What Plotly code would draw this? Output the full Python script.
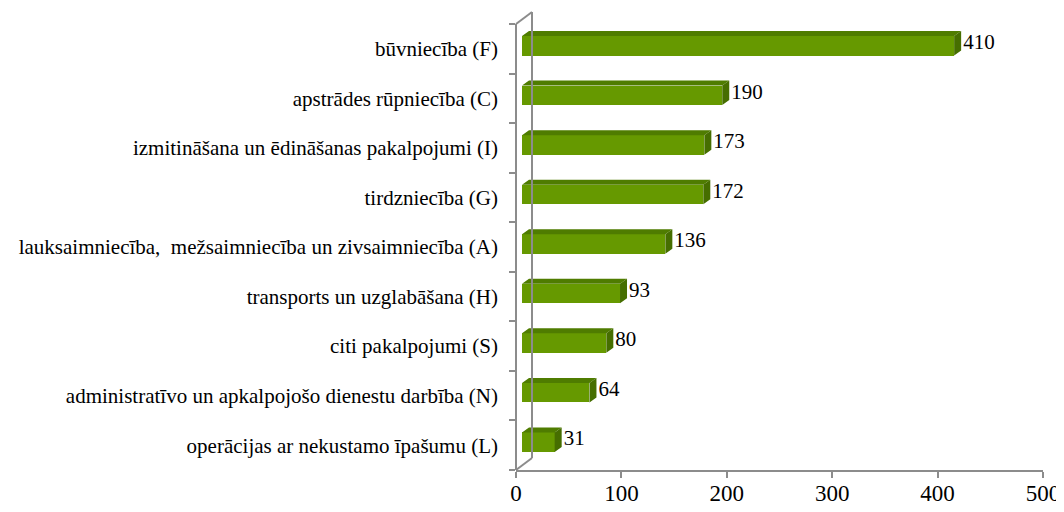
import plotly.graph_objects as go

# dati (no apakšas uz augšu)
categories = [
    "operācijas ar nekustamo īpašumu (L)",
    "administratīvo un apkalpojošo dienestu darbība (N)",
    "citi pakalpojumi (S)",
    "transports un uzglabāšana (H)",
    "lauksaimniecība,\u00a0 mežsaimniecība un zivsaimniecība (A)",
    "tirdzniecība (G)",
    "izmitināšana un ēdināšanas pakalpojumi (I)",
    "apstrādes rūpniecība (C)",
    "būvniecība (F)",
]
values = [31, 64, 80, 93, 136, 172, 173, 190, 410]
x_ticks = [0, 100, 200, 300, 400, 500]

FRONT = "#669900"
TOP = "#4F7C00"
SIDE = "#466E00"
AXIS = "#8C8C8C"
FONT = "Liberation Serif, Times New Roman, serif"

# lapai ir 8px body atkāpe: figūra mazāka par logu, koordinātes pārbīdītas par 8px,
# asu teksts drīkst iziet ārpus svg malas
PAD = 8
W, H = 1040, 480
L, R, T, B = 516 - PAD, 1043 - PAD, 12 - PAD, 470 - PAD
XMAX = 500
px_x = (R - L) / XMAX
n = len(categories)
band = (B - (24 - PAD)) / n
y0 = -0.5
y1 = y0 + (B - T) / band

# 3D dziļums (sienas un stabiņu)
wall_dx, wall_dy = 16 / px_x, 12 / band
bar_off_x, bar_off_y = 6 / px_x, 3 / band
bar_h = 19.5 / band
bar_dx, bar_dy = 7 / px_x, 5 / band


def xp(v):
    return v / XMAX


def yp(v):
    return (v - y0) / (y1 - y0)


fig = go.Figure()

ys = [i + bar_off_y for i in range(n)]

fig.add_trace(go.Bar(
    y=ys, x=values, base=bar_off_x, orientation="h",
    width=bar_h, marker=dict(color=FRONT, line=dict(width=0)),
    hoverinfo="skip", showlegend=False,
))

# augšējā un sānu skaldne
top_x, top_y, side_x, side_y = [], [], [], []
for y, v in zip(ys, values):
    xa, xb = bar_off_x, bar_off_x + v
    yt, yb = y + bar_h / 2, y - bar_h / 2
    top_x += [xa, xb, xb + bar_dx, xa + bar_dx, xa, None]
    top_y += [yt, yt, yt + bar_dy, yt + bar_dy, yt, None]
    side_x += [xb, xb + bar_dx, xb + bar_dx, xb, xb, None]
    side_y += [yb, yb + bar_dy, yt + bar_dy, yt, yb, None]

fig.add_trace(go.Scatter(x=top_x, y=top_y, fill="toself", fillcolor=TOP,
                         mode="lines", line=dict(width=0), hoverinfo="skip",
                         showlegend=False))
fig.add_trace(go.Scatter(x=side_x, y=side_y, fill="toself", fillcolor=SIDE,
                         mode="lines", line=dict(width=0), hoverinfo="skip",
                         showlegend=False))

# vērtību etiķetes
fig.add_trace(go.Scatter(
    x=[bar_off_x + v + bar_dx + 2 / px_x for v in values],
    y=[y + 0.04 for y in ys],
    mode="text", text=[str(v) for v in values], textposition="middle right",
    textfont=dict(family=FONT, size=21, color="#000000"),
    hoverinfo="skip", showlegend=False, cliponaxis=False,
))

# 3D rāmis
line = dict(color=AXIS, width=2)
shapes = [
    dict(type="line", xref="paper", yref="paper", x0=0, x1=0,
         y0=yp(-0.5), y1=yp(n - 0.5), line=line),
    dict(type="line", xref="paper", yref="paper", x0=0, x1=xp(wall_dx),
         y0=yp(n - 0.5), y1=yp(n - 0.5 + wall_dy), line=line),
    dict(type="line", xref="paper", yref="paper", x0=xp(wall_dx), x1=xp(wall_dx),
         y0=yp(-0.5 + wall_dy), y1=yp(n - 0.5 + wall_dy), line=line),
    dict(type="line", xref="paper", yref="paper", x0=0, x1=xp(wall_dx),
         y0=yp(-0.5), y1=yp(-0.5 + wall_dy), line=line),
]

fig.update_layout(
    width=W, height=H,
    margin=dict(l=L, r=W - R, t=T, b=H - B),
    paper_bgcolor="white", plot_bgcolor="white",
    shapes=shapes,
    bargap=0,
    xaxis=dict(
        range=[0, XMAX], tickvals=x_ticks, ticks="outside", ticklen=6,
        tickcolor=AXIS, tickwidth=2, showline=True, linecolor=AXIS, linewidth=2,
        showgrid=False, zeroline=False, automargin=False,
        ticklabeloverflow="allow", ticklabelstandoff=-5,
        tickfont=dict(family=FONT, size=23, color="#000000"),
    ),
    yaxis=dict(
        range=[y0, y1], tickvals=list(range(n)), ticktext=categories,
        ticks="", showline=False, showgrid=False, zeroline=False,
        automargin=False, ticklabelstandoff=17,
        tickfont=dict(family=FONT, size=21, color="#000000"),
    ),
    yaxis2=dict(
        range=[y0, y1], overlaying="y", side="left",
        tickvals=[i - 0.5 for i in range(n + 1)], ticks="outside", ticklen=6,
        tickcolor=AXIS, tickwidth=2, showticklabels=False, automargin=False,
        showline=False, showgrid=False, zeroline=False,
    ),
)
fig.add_trace(go.Scatter(x=[None], y=[None], yaxis="y2", showlegend=False,
                         hoverinfo="skip"))

# svg teksts drīkst iziet ārpus malas; lapai bez ritjoslām
fig.write_html(
    "out.html",
    config={"displayModeBar": False},
    post_script="document.querySelectorAll('svg.main-svg').forEach("
                "function(s){s.style.overflow='visible';});"
                "document.documentElement.style.overflow='hidden';"
                "document.body.style.overflow='hidden';",
)
